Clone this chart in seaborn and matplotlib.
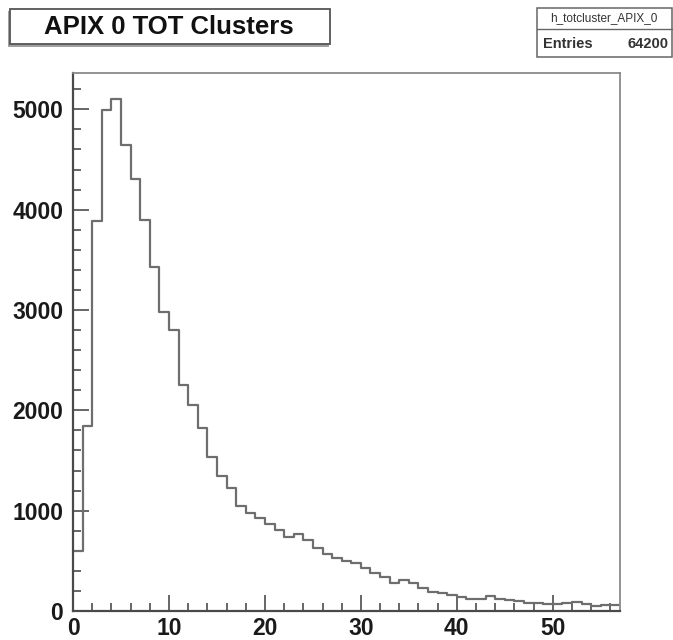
import numpy as np
import pandas as pd
import matplotlib
matplotlib.use("Agg")
import matplotlib.pyplot as plt
from matplotlib.patches import Rectangle
from matplotlib.lines import Line2D
from matplotlib.ticker import MultipleLocator
import seaborn as sns

# Histogram contents: TOT per cluster, unit-width bins from 0 to 57
tot_range = (0, 57)
counts = [600, 1846, 3885, 4993, 5107, 4648, 4301, 3902, 3424, 2981,
          2797, 2249, 2049, 1823, 1534, 1347, 1224, 1048, 978, 928,
          868, 808, 738, 768, 708, 628, 569, 529, 499, 476,
          429, 379, 339, 279, 309, 279, 226, 193, 177, 160,
          140, 120, 117, 150, 120, 105, 95, 83, 77, 70,
          70, 77, 90, 65, 45, 55, 55]
title = "APIX 0 TOT Clusters"
hist_name = "h_totcluster_APIX_0"
entries = 64200

sns.set_theme(style="white")
plt.rcParams["font.family"] = ["Liberation Sans", "DejaVu Sans"]

W, H = 673, 640
fig = plt.figure(figsize=(W / 100, H / 100), dpi=100)
fig.patch.set_facecolor("white")

ax = fig.add_axes([73 / W, 29 / H, 547 / W, 538 / H])

centers = np.arange(tot_range[0], tot_range[1]) + 0.5
df = pd.DataFrame({"tot": centers, "n": counts})
sns.histplot(data=df, x="tot", weights="n", binwidth=1, binrange=tot_range,
             element="step", fill=False, color="#6e6e6e",
             linewidth=1.6, ax=ax)

ax.set_xlim(*tot_range)
ax.set_ylim(0, 1.05 * max(counts))
ax.set_xlabel("")
ax.set_ylabel("")

# ROOT-like frame and ticks
for side in ("left", "bottom"):
    ax.spines[side].set_color("#4a4a4a")
    ax.spines[side].set_linewidth(1.6)
for side in ("top", "right"):
    ax.spines[side].set_color("#8a8a8a")
    ax.spines[side].set_linewidth(1.3)

ax.xaxis.set_major_locator(MultipleLocator(10))
ax.xaxis.set_minor_locator(MultipleLocator(2))
ax.yaxis.set_major_locator(MultipleLocator(1000))
ax.yaxis.set_minor_locator(MultipleLocator(200))
ax.tick_params(axis="both", which="both", direction="in", top=False,
               right=False, bottom=True, left=True, color="#5a5a5a",
               width=1.3)
ax.tick_params(axis="both", which="major", length=11.5)
ax.tick_params(axis="both", which="minor", length=5.8)
ax.tick_params(axis="y", which="major", pad=7)
ax.tick_params(axis="x", which="major", pad=4.5)
for lab in ax.get_xticklabels() + ax.get_yticklabels():
    lab.set_fontsize(16.5)
    lab.set_fontweight("bold")
    lab.set_color("#1a1a1a")

# Title pave with shadow
fig.patches.append(Rectangle((8 / W, 1 - 47 / H), 321 / W, 36 / H,
                             transform=fig.transFigure, facecolor="#a0a0a0",
                             edgecolor="none", zorder=1))
fig.patches.append(Rectangle((10 / W, 1 - 44 / H), 320 / W, 35 / H,
                             transform=fig.transFigure, facecolor="white",
                             edgecolor="#555555", linewidth=1.3, zorder=2))
fig.text(169 / W, 1 - 27 / H, title, ha="center", va="center",
         fontsize=18.5, fontweight="bold", color="#111111", zorder=3)

# Statistics box
fig.patches.append(Rectangle((537 / W, 1 - 57 / H), 135 / W, 49 / H,
                             transform=fig.transFigure, facecolor="white",
                             edgecolor="#666666", linewidth=1.1, zorder=2))
fig.lines.append(Line2D([537 / W, 672 / W], [1 - 29 / H, 1 - 29 / H],
                        transform=fig.transFigure, color="#666666",
                        linewidth=1.0, zorder=3))
fig.text(604 / W, 1 - 18.5 / H, hist_name, ha="center", va="center",
         fontsize=8.5, color="#333333", zorder=3)
fig.text(543 / W, 1 - 44 / H, "Entries", ha="left", va="center",
         fontsize=10.5, fontweight="bold", color="#333333", zorder=3)
fig.text(669 / W, 1 - 44 / H, f"{entries}", ha="right", va="center",
         fontsize=10.5, fontweight="bold", color="#333333", zorder=3)

fig.savefig("out.png", dpi=100, facecolor="white")
